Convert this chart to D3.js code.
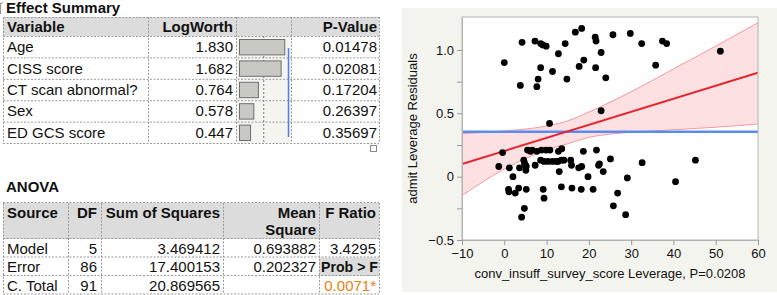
<!DOCTYPE html>
<meta charset="utf-8">
<style>
  body { margin: 0; background: #fff; }
  text { font-family: "Liberation Sans", Arial, sans-serif; fill: #111; }
</style>
<body>
<script src="https://d3js.org/d3.v7.min.js"></script>
<script>
// Effect Summary
var effectVars = ["Age", "CISS score", "CT scan abnormal?", "Sex", "ED GCS score"];
var logWorth = [1.830, 1.682, 0.764, 0.578, 0.447];
var pValues = ["0.01478", "0.02081", "0.17204", "0.26397", "0.35697"];

// ANOVA
var anovaSources = ["Model", "Error", "C. Total"];
var anovaDF = ["5", "86", "91"];
var anovaSS = ["3.469412", "17.400153", "20.869565"];
var anovaMS = ["0.693882", "0.202327", ""];
var fRatio = "3.4295";
var probF = "0.0071*";

// leverage plot points
var levX = [0, 4.2, 3.8, 7.25, 8.6, 9.1, 9.9, 8.0, 7.7, 8.6, 11.4, 12.8, 14.4, 14.8, 16.8, 18.3,
  17.7, 18.8, 21.5, 21.7, 22.9, 21.6, 24.0, 25.7, 29.8, 32.5, 35.8, 37.4, 38.4, 51.1, 22.9, 10.7,
  -0.4, -1.3, 1.2, 2.05, 1.0, 1.1, 2.6, 3.4, 3.6, 4.6, 4.75, 5.0, 5.2, 5.1, 4.75, 4.1, 5.2,
  5.5, 6.6, 7.7, 8.8, 7.3, 8.6, 9.4, 10.3, 11.4, 12.7, 13.5, 14.1, 10.8, 12.8, 13.6, 9.2, 9.4,
  13.0, 13.5, 15.7, 15.9, 16.0, 17.6, 18.3, 18.2, 18.7, 19.8, 21.0, 21.8, 22.3, 22.5, 23.4,
  25.1, 25.8, 32.6, 29.1, 26.8, 28.7, 40.5, 45.2, 6.2, 12.3, 9.9];
var levY = [0.90, 1.06, 0.72, 1.07, 1.05, 1.04, 1.03, 0.77, 0.71, 0.86, 0.83, 0.97, 1.05, 0.77,
  1.14, 1.17, 0.87, 0.92, 1.10, 1.07, 0.98, 0.86, 0.78, 1.12, 1.13, 1.05, 0.88, 1.07, 1.05, 0.99,
  0.52, 0.42,
  0.19, 0.08, 0.07, 0.0, -0.10, -0.12, -0.13, -0.09, 0.07, 0.13, 0.11, 0.09, 0.08, 0.05, -0.25,
  -0.32, -0.10, 0.21, 0.21, 0.20, 0.21, 0.09, 0.13, 0.12, 0.12, 0.12, 0.12, 0.13, 0.13, 0.21,
  0.20, 0.22, -0.10, -0.17, 0.04, -0.08, 0.13, 0.09, -0.09, 0.07, 0.08, -0.10, 0.20, 0.0, -0.10,
  0.21, 0.09, 0.10, 0.04, 0.14, -0.23, 0.11, -0.01, -0.13, -0.30, -0.04, 0.13, 0.20, 0.12, 0.21];

// fit line, confidence band, mean line
var lineX = [-10, 60];
var lineY = [0.10, 0.82];
var bandX = [-10, 0, 10, 15, 20, 30, 40, 50, 60];
var bandUpper = [0.34, 0.36, 0.40, 0.44, 0.51, 0.67, 0.85, 1.03, 1.215];
var bandLower = [-0.15, 0.06, 0.21, 0.26, 0.31, 0.35, 0.37, 0.39, 0.415];
var meanY = 0.355;
var xTicks = [-10, 0, 10, 20, 30, 40, 50, 60];
var yTicks = [-0.5, 0, 0.5, 1.0];
var yMinor = [-0.25, 0.25, 0.75];

var svg = d3.select("body").append("svg")
  .attr("width", 777)
  .attr("height", 295);

var dash = "2,1.5";
var gridColor = "#9a9a9a";
var headBg = "#dcdcdc";

// ---------- Effect Summary ----------
svg.append("path")
  .attr("d", "M0.5,3 L3,3 M0.5,3 L0.5,14")
  .attr("stroke", "#999").attr("fill", "none");
svg.append("text").attr("x", 6).attr("y", 13)
  .style("font-size", "15px").style("font-weight", "bold").text("Effect Summary");

var c1 = [3, 148, 236, 291, 379];
var rowY = d3.scaleBand().domain(effectVars).range([36, 143]);
var t1 = svg.append("g");

t1.append("rect").attr("x", c1[0]).attr("y", 17).attr("width", c1[4] - c1[0]).attr("height", 19)
  .attr("fill", headBg);
t1.append("rect").attr("x", c1[2]).attr("y", 36).attr("width", c1[3] - c1[2]).attr("height", 107)
  .attr("fill", "#f5f5ef");

// horizontal dashed lines
[17, 36].concat(effectVars.map(function(d) { return rowY(d) + rowY.bandwidth(); }))
  .forEach(function(y) {
    t1.append("line").attr("x1", c1[0]).attr("x2", c1[4]).attr("y1", y + 0.5).attr("y2", y + 0.5)
      .attr("stroke", gridColor).attr("stroke-dasharray", dash);
  });
c1.forEach(function(x) {
  t1.append("line").attr("x1", x + 0.5).attr("x2", x + 0.5).attr("y1", 17).attr("y2", 143)
    .attr("stroke", gridColor).attr("stroke-dasharray", dash);
});

t1.append("text").attr("x", 7).attr("y", 32).style("font-size", "15px").style("font-weight", "bold").text("Variable");
t1.append("text").attr("x", 233).attr("y", 32).attr("text-anchor", "end").style("font-size", "15px").style("font-weight", "bold").text("LogWorth");
t1.append("text").attr("x", 377).attr("y", 32).attr("text-anchor", "end").style("font-size", "15px").style("font-weight", "bold").text("P-Value");

var bx = d3.scaleLinear().domain([0, 2]).range([239, 288.5]);

// reference lines in bar column
t1.append("line").attr("x1", bx(1)).attr("x2", bx(1)).attr("y1", 36).attr("y2", 143)
  .attr("stroke", "#777").attr("stroke-dasharray", "2,2");

t1.selectAll(".bar").data(effectVars).enter().append("rect")
  .attr("x", bx(0) + 0.5)
  .attr("y", function(d) { return rowY(d) + 3.5; })
  .attr("width", function(d, i) { return bx(logWorth[i]) - bx(0); })
  .attr("height", rowY.bandwidth() - 6)
  .attr("fill", "#c9c9c3")
  .attr("stroke", "#6e6e6e");

t1.append("line").attr("x1", bx(2)).attr("x2", bx(2)).attr("y1", 48).attr("y2", 137)
  .attr("stroke", "#4a7ef2").attr("stroke-width", 1.5);

t1.selectAll(".vn").data(effectVars).enter().append("text")
  .attr("x", 7).attr("y", function(d) { return rowY(d) + rowY.bandwidth() / 2 + 5.5; })
  .style("font-size", "15px").text(function(d) { return d; });
t1.selectAll(".lw").data(logWorth).enter().append("text")
  .attr("x", 233).attr("y", function(d, i) { return rowY(effectVars[i]) + rowY.bandwidth() / 2 + 5.5; })
  .attr("text-anchor", "end").style("font-size", "15px").text(function(d) { return d.toFixed(3); });
t1.selectAll(".pv").data(pValues).enter().append("text")
  .attr("x", 377).attr("y", function(d, i) { return rowY(effectVars[i]) + rowY.bandwidth() / 2 + 5.5; })
  .attr("text-anchor", "end").style("font-size", "15px").text(function(d) { return d; });

// resize handle
svg.append("rect").attr("x", 370.5).attr("y", 145.5).attr("width", 6).attr("height", 6)
  .attr("fill", "#fff").attr("stroke", "#888");

// ---------- ANOVA ----------
svg.append("text").attr("x", 6).attr("y", 192)
  .style("font-size", "15px").style("font-weight", "bold").text("ANOVA");

var c2 = [3, 68, 101, 223, 319, 379];
var rowA = d3.scaleBand().domain(anovaSources).range([239, 294.5]);
var t2 = svg.append("g");

t2.append("rect").attr("x", c2[0]).attr("y", 203).attr("width", c2[5] - c2[0]).attr("height", 36)
  .attr("fill", headBg);
t2.append("rect").attr("x", c2[4]).attr("y", rowA("Error")).attr("width", c2[5] - c2[4]).attr("height", rowA.bandwidth())
  .attr("fill", headBg);

[203, 239].concat(anovaSources.map(function(d) { return rowA(d) + rowA.bandwidth(); }))
  .forEach(function(y) {
    t2.append("line").attr("x1", c2[0]).attr("x2", c2[5]).attr("y1", y - 0.5).attr("y2", y - 0.5)
      .attr("stroke", gridColor).attr("stroke-dasharray", dash);
  });
c2.forEach(function(x) {
  t2.append("line").attr("x1", x + 0.5).attr("x2", x + 0.5).attr("y1", 203).attr("y2", 294)
    .attr("stroke", gridColor).attr("stroke-dasharray", dash);
});

var hdr = [
  { x: 7, t: "Source", a: "start", y: 218 },
  { x: 97, t: "DF", a: "end", y: 218 },
  { x: 220, t: "Sum of Squares", a: "end", y: 218 },
  { x: 316, t: "Mean", a: "end", y: 218 },
  { x: 316, t: "Square", a: "end", y: 235 },
  { x: 376, t: "F Ratio", a: "end", y: 218 }
];
t2.selectAll(".h").data(hdr).enter().append("text")
  .attr("x", function(d) { return d.x; }).attr("y", function(d) { return d.y; })
  .attr("text-anchor", function(d) { return d.a; })
  .style("font-size", "15px").style("font-weight", "bold").text(function(d) { return d.t; });

anovaSources.forEach(function(s, i) {
  var y = rowA(s) + rowA.bandwidth() / 2 + 5.5;
  t2.append("text").attr("x", 7).attr("y", y).style("font-size", "15px").text(s);
  t2.append("text").attr("x", 97).attr("y", y).attr("text-anchor", "end").style("font-size", "15px").text(anovaDF[i]);
  t2.append("text").attr("x", 220).attr("y", y).attr("text-anchor", "end").style("font-size", "15px").text(anovaSS[i]);
  t2.append("text").attr("x", 316).attr("y", y).attr("text-anchor", "end").style("font-size", "15px").text(anovaMS[i]);
});
t2.append("text").attr("x", 376).attr("y", rowA("Model") + rowA.bandwidth() / 2 + 5.5)
  .attr("text-anchor", "end").style("font-size", "15px").text(fRatio);
t2.append("text").attr("x", 321).attr("y", rowA("Error") + rowA.bandwidth() / 2 + 5.5)
  .attr("textLength", 57).attr("lengthAdjust", "spacingAndGlyphs")
  .style("font-size", "15px").style("font-weight", "bold").text("Prob > F");
t2.append("text").attr("x", 376).attr("y", rowA("C. Total") + rowA.bandwidth() / 2 + 5.5)
  .attr("text-anchor", "end").style("font-size", "15px").style("fill", "#e8810f").text(probF);

// ---------- Leverage plot ----------
svg.append("rect").attr("x", 402).attr("y", 8).attr("width", 375).attr("height", 284)
  .attr("fill", "#f4f4ef");

var x = d3.scaleLinear().domain([-10, 60]).range([462, 758]);
var y = d3.scaleLinear().domain([-0.5, 1.26]).range([240, 17]);

svg.append("rect").attr("x", 462).attr("y", 17).attr("width", 296).attr("height", 223)
  .attr("fill", "#fff");

svg.append("clipPath").attr("id", "clip").append("rect")
  .attr("x", 462).attr("y", 17).attr("width", 296).attr("height", 223);

var plot = svg.append("g").attr("clip-path", "url(#clip)");

var band = bandX.map(function(d, i) { return { x: d, lo: bandLower[i], hi: bandUpper[i] }; });
plot.append("path").datum(band)
  .attr("d", d3.area().curve(d3.curveMonotoneX)
    .x(function(d) { return x(d.x); })
    .y0(function(d) { return y(d.lo); })
    .y1(function(d) { return y(d.hi); }))
  .attr("fill", "#fde0e1");
["lo", "hi"].forEach(function(k) {
  plot.append("path").datum(band)
    .attr("d", d3.line().curve(d3.curveMonotoneX)
      .x(function(d) { return x(d.x); })
      .y(function(d) { return y(d[k]); }))
    .attr("fill", "none").attr("stroke", "#f49a9e").attr("stroke-width", 1);
});

plot.append("path").datum(x.domain())
  .attr("d", d3.line().x(function(d) { return x(d); }).y(function() { return y(meanY); }))
  .attr("stroke", "#5a8cf0").attr("stroke-width", 2.5).attr("fill", "none");

plot.append("path").datum(lineX.map(function(d, i) { return [d, lineY[i]]; }))
  .attr("d", d3.line().x(function(d) { return x(d[0]); }).y(function(d) { return y(d[1]); }))
  .attr("stroke", "#e6222c").attr("stroke-width", 2).attr("fill", "none");

plot.selectAll("circle").data(levX).enter().append("circle")
  .attr("cx", function(d) { return x(d); })
  .attr("cy", function(d, i) { return y(levY[i]); })
  .attr("r", 3.4)
  .attr("fill", "#000");

svg.append("rect").attr("x", 462).attr("y", 17).attr("width", 296).attr("height", 223)
  .attr("fill", "none").attr("stroke", "#b4b4b4");

var fmtY = function(d) { return d === 0 ? "0" : d3.format(".1f")(d); };
var yAxis = svg.append("g").attr("transform", "translate(462,0)")
  .call(d3.axisLeft(y).tickValues(yTicks).tickFormat(fmtY).tickSize(5).tickSizeOuter(0).tickPadding(3));
svg.append("g").attr("transform", "translate(462,0)")
  .call(d3.axisLeft(y).tickValues(yMinor).tickFormat("").tickSize(5).tickSizeOuter(0))
  .select(".domain").remove();
var xAxis = svg.append("g").attr("transform", "translate(0,240)")
  .call(d3.axisBottom(x).tickValues(xTicks).tickFormat(d3.format("d")).tickSize(5).tickSizeOuter(0).tickPadding(4));

svg.selectAll(".domain").attr("stroke", "#b4b4b4");
svg.selectAll(".tick line").attr("stroke", "#999");
svg.selectAll(".tick text").style("font-size", "13px").style("font-family", "'Liberation Sans', Arial, sans-serif").attr("fill", "#222");

svg.append("text").attr("x", 610).attr("y", 278).attr("text-anchor", "middle")
  .style("font-size", "13px").text("conv_insuff_survey_score Leverage, P=0.0208");
svg.append("text").attr("transform", "translate(417,128.5) rotate(-90)").attr("text-anchor", "middle")
  .style("font-size", "13px").text("admit Leverage Residuals");
</script>
</body>
